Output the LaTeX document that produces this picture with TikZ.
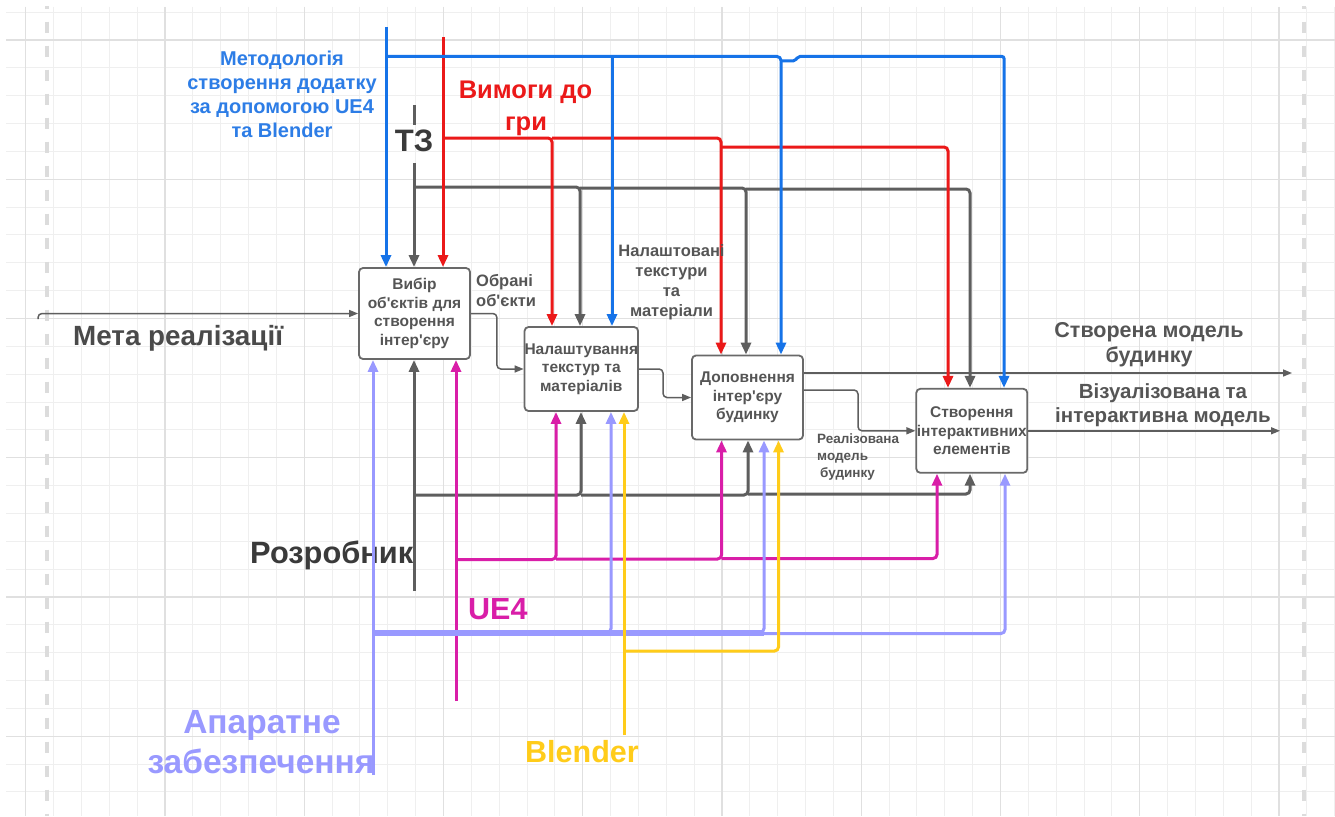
\documentclass[tikz,border=0pt]{standalone}
\usepackage{fontspec}
\setmainfont{Liberation Sans}
\usetikzlibrary{arrows.meta}
\definecolor{blueL}{RGB}{22,115,232}
\definecolor{blueT}{RGB}{45,125,230}
\definecolor{redL}{RGB}{235,25,25}
\definecolor{greyL}{RGB}{94,94,94}
\definecolor{magL}{RGB}{217,30,168}
\definecolor{lavL}{RGB}{153,153,255}
\definecolor{yelL}{RGB}{255,204,26}
\definecolor{boxc}{RGB}{105,105,105}
\definecolor{boxtxt}{RGB}{85,85,85}
\definecolor{darktxt}{RGB}{58,58,58}
\definecolor{metatxt}{RGB}{74,74,74}
\definecolor{gminor}{RGB}{239,239,239}
\definecolor{gmajor}{RGB}{224,224,224}
\definecolor{pagedash}{RGB}{220,220,220}
\newcommand{\myap}{{\XeTeXglyph\XeTeXcharglyph"27\relax}}
\begin{document}
\begin{tikzpicture}[x=1pt,y=-1pt,
  box/.style={draw=boxc, line width=1.8pt, rounded corners=4pt, fill=white,
    minimum width=111pt, minimum height=84pt, inner sep=0pt, align=center,
    text=boxtxt, font=\bfseries\fontsize{15.5}{18.5}\selectfont},
  lbl/.style={inner sep=0pt, font=\bfseries},
  fs/.style={font=\bfseries\fontsize{#1}{#1}\selectfont},
  ctl/.style={line width=3pt, rounded corners=4pt, -{Triangle[length=12pt,width=10pt]}},
  flowline/.style={line width=1.5pt, draw=greyL, rounded corners=4pt, -{Triangle[length=9pt,width=7pt]}},
]
\useasboundingbox (0,0) rectangle (1335,816);
\fill[white] (0,0) rectangle (1335,816);
% grid
\foreach \i in {0,...,47} \draw[gminor, line width=1pt] ({25.7+27.85*\i},7) -- ({25.7+27.85*\i},816);
\foreach \j in {0,...,28} \draw[gminor, line width=1pt] (6,{12.15+27.85*\j}) -- (1335,{12.15+27.85*\j});
\foreach \i in {0,...,9} \draw[gmajor, line width=1.2pt] ({25.7+139.25*\i},7) -- ({25.7+139.25*\i},816);
\foreach \j in {0,...,5} \draw[gmajor, line width=1.2pt] (6,{40+139.25*\j}) -- (1335,{40+139.25*\j});
% page dashed lines
\begin{scope}
\clip (0,7) rectangle (1335,816);
\draw[pagedash, line width=3.3pt, dash pattern=on 11.5pt off 12.5pt] (47,-2.3) -- (47,816);
\draw[pagedash, line width=3.3pt, dash pattern=on 11.5pt off 12.5pt] (1304,-2.3) -- (1304,816);
\end{scope}

% big labels
\node[lbl, fs=27.8, text=metatxt, anchor=base west] (tMeta) at (73,345) {Мета реалізації};
\node[lbl, fs=30.8, text=darktxt, anchor=base west] (tRozr) at (250,563) {Розробник};
\node[lbl, fs=33.5, text=lavL, anchor=base] (tHw1) at (262,733) {Апаратне};
\node[lbl, fs=33.5, text=lavL, anchor=base] (tHw2) at (261,773) {забезпечення};
\node[lbl, fs=30.5, text=magL, anchor=base west] (tUE) at (468,619) {UE4};
\node[lbl, fs=30.5, text=yelL, anchor=base west] (tBl) at (525,762.7) {Blender};
\node[lbl, fs=31, text=darktxt, anchor=base] (tTZ) at (414,151.7) {ТЗ};
\node[lbl, fs=20, text=blueT, anchor=base] (tM1) at (282,65.7) {Методологія};
\node[lbl, fs=20, text=blueT, anchor=base] (tM2) at (282,89.7) {створення додатку};
\node[lbl, fs=20, text=blueT, anchor=base] (tM3) at (282,113.7) {за допомогою UE4};
\node[lbl, fs=20, text=blueT, anchor=base] (tM4) at (282,137.7) {та Blender};
\node[lbl, fs=25.5, text=redL, anchor=base] (tV1) at (525.5,98.3) {Вимоги до};
\node[lbl, fs=25.5, text=redL, anchor=base] (tV2) at (526,130) {гри};
\node[lbl, fs=16.5, text=boxtxt, anchor=base west] (tO1) at (476,286) {Обрані};
\node[lbl, fs=16.5, text=boxtxt, anchor=base west] (tO2) at (476,306) {об\myap єкти};
\node[lbl, fs=13.5, text=boxtxt, anchor=base west] (tR1) at (817,443) {Реалізована};
\node[lbl, fs=13.5, text=boxtxt, anchor=base west] (tR2) at (817,460) {модель};
\node[lbl, fs=13.5, text=boxtxt, anchor=base west] (tR3) at (820,477) {будинку};
\node[lbl, fs=21.5, text=boxtxt, anchor=base] (tS1) at (1149,337) {Створена модель};
\node[lbl, fs=21.5, text=boxtxt, anchor=base] (tS2) at (1149,362) {будинку};
\node[lbl, fs=20.5, text=boxtxt, anchor=base] (tW1) at (1163,398) {Візуалізована та};
\node[lbl, fs=20.5, text=boxtxt, anchor=base] (tW2) at (1163,422) {інтерактивна модель};

% boxes
\node[box, minimum height=91pt] (A) at (414.5,313.5) {Вибір\\об\myap єктів для\\створення\\інтер\myap єру};
\node[box] (B) at (581.3,369) {Налаштування\\текстур та\\матеріалів};
\node[box] (C) at (747.5,397.5) {Доповнення\\інтер\myap єру\\будинку};
\node[box] (D) at (971.8,430.8) {Створення\\інтерактивних\\елементів};

% thin flow lines
\coordinate (in) at (38,319);
\coordinate (o1) at (1292,373);
\coordinate (o2) at (1280,430.8);
\draw[flowline] (in) |- (A.west);
\draw[flowline] (A.east) -- ++(26,0) |- (B.west);
\draw[flowline] (B.east) -- (663,369) |- (C.west);
\draw[flowline] (C.east |- o1) -- (o1);
\draw[flowline] (C.east |- 0,390) -- (858,390) |- (D.west);
\draw[flowline] (D.east) -- (o2);

% grey controls (ТЗ)
\draw[greyL, line width=3pt] (414,105) -- (414,125);
\draw[ctl, greyL] (414,163) -- (414,0 |- A.north);
\draw[ctl, greyL] (414,187) -| (580,0 |- B.north);
\draw[ctl, greyL] (580,188) -| (746,0 |- C.north);
\draw[ctl, greyL] (746,189) -| (970,0 |- D.north);
% red
\draw[ctl, redL] (443,37) -- (443,0 |- A.north);
\draw[ctl, redL] (443,138) -| (552,0 |- B.north);
\draw[ctl, redL] (552,138) -| (721,0 |- C.north);
\draw[ctl, redL] (721,147) -| (948,0 |- D.north);
% blue
\draw[ctl, blueL] (386,27) -- (386,0 |- A.north);
\draw[ctl, blueL] (386,56.5) -| (781,0 |- C.north);
\draw[ctl, blueL] (612,56.5) -- (612,0 |- B.north);
\draw[ctl, blueL, rounded corners=2pt] (782,61) -- (795,61) -- (798,56.5) -| (1004,0 |- D.north);

% grey mechanism (Розробник)
\draw[ctl, greyL] (414,591) -- (414,0 |- A.south);
\draw[ctl, greyL] (414,495) -| (581,0 |- B.south);
\draw[ctl, greyL] (581,495) -| (748,0 |- C.south);
\draw[ctl, greyL] (748,494) -| (970,0 |- D.south);
% magenta (UE4)
\draw[ctl, magL] (456,701) -- (456,0 |- A.south);
\draw[ctl, magL] (456,559.5) -| (556,0 |- B.south);
\draw[ctl, magL] (556,559) -| (721.5,0 |- C.south);
\draw[ctl, magL] (721.5,558.5) -| (937,0 |- D.south);
% lavender (hardware)
\draw[lavL, line width=6pt] (373,632.5) -- (764,632.5);
\draw[ctl, lavL] (373,775) -- (373,0 |- A.south);
\draw[ctl, lavL] (373,632.5) -| (611,0 |- B.south);
\draw[ctl, lavL] (611,632.5) -| (764,0 |- C.south);
\draw[ctl, lavL] (764,633.5) -| (1005,0 |- D.south);
% yellow (Blender)
\draw[ctl, yelL] (624,735) -- (624,0 |- B.south);
\draw[ctl, yelL] (624,651) -| (778.5,0 |- C.south);

% label drawn over the lines
\node[lbl, fs=16.5, text=boxtxt, anchor=base] (tN1) at (671.5,256.7) {Налаштовані};
\node[lbl, fs=16.5, text=boxtxt, anchor=base] (tN2) at (671.5,276.7) {текстури};
\node[lbl, fs=16.5, text=boxtxt, anchor=base] (tN3) at (671.5,296.7) {та};
\node[lbl, fs=16.5, text=boxtxt, anchor=base] (tN4) at (671.5,316.7) {матеріали};
\end{tikzpicture}
\end{document}
